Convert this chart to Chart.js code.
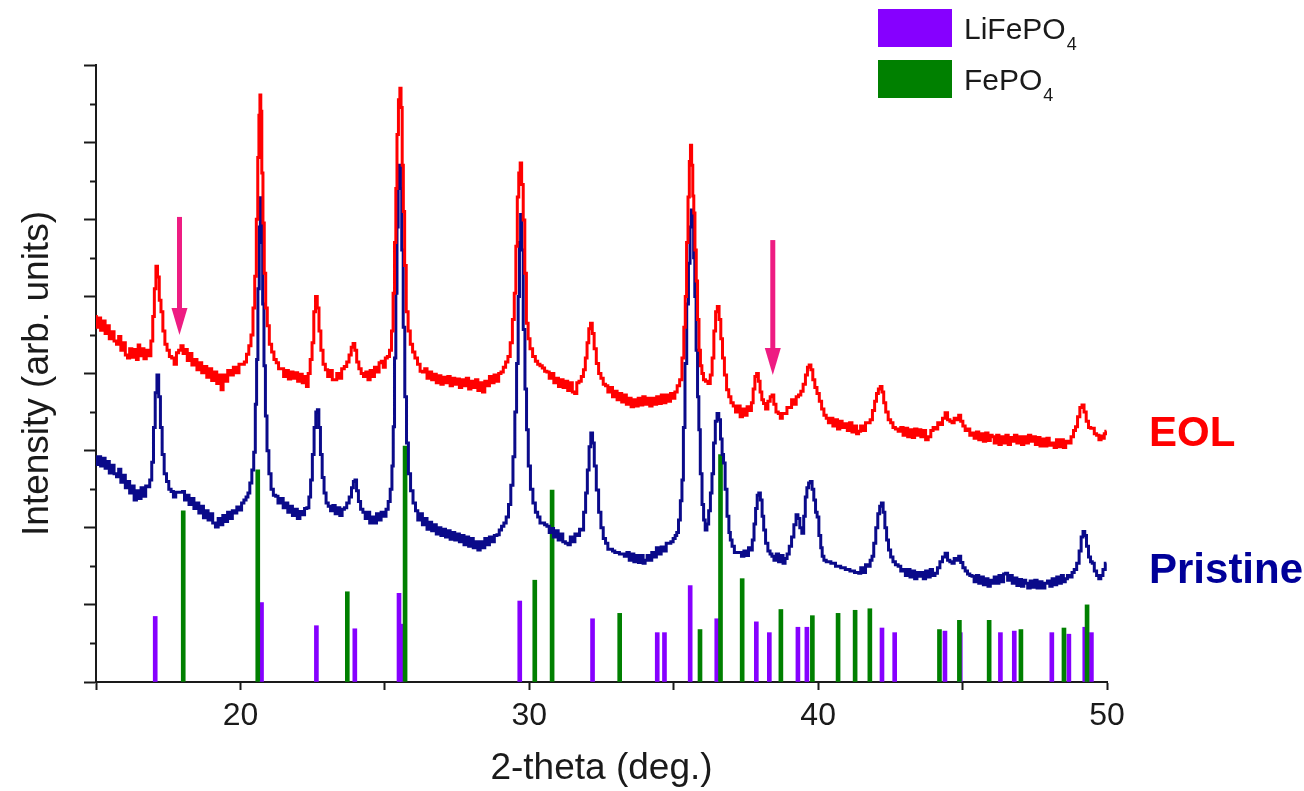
<!DOCTYPE html>
<html>
<head>
<meta charset="utf-8">
<script src="https://cdn.jsdelivr.net/npm/chart.js@4.4.1/dist/chart.umd.min.js"></script>
<style>
  html, body { margin: 0; padding: 0; background: #fff; }
  canvas { display: block; }
</style>
</head>
<body>
<canvas id="xrd" width="1304" height="791"></canvas>
<script>
// 2-theta positions (deg.) and intensities (arb. units) of the measured patterns
const eolTheta = [
  14.97, 15.05, 15.12, 15.20, 15.28, 15.35, 15.42, 15.50, 15.58, 15.67, 15.75, 15.82, 15.90, 15.98, 16.05, 16.13,
  16.20, 16.28, 16.36, 16.44, 16.48, 16.55, 16.62, 16.70, 16.78, 16.86, 16.94, 16.99, 17.05, 17.10, 17.16, 17.22,
  17.28, 17.35, 17.42, 17.50, 17.58, 17.66, 17.75, 17.82, 17.90, 17.98, 18.05, 18.12, 18.20, 18.28, 18.36, 18.45,
  18.54, 18.62, 18.70, 18.79, 18.88, 18.96, 19.05, 19.14, 19.22, 19.30, 19.36, 19.44, 19.52, 19.60, 19.71, 19.80,
  19.90, 20.00, 20.10, 20.17, 20.25, 20.33, 20.40, 20.47, 20.52, 20.58, 20.62, 20.66, 20.69, 20.72, 20.76, 20.80,
  20.85, 20.90, 20.96, 21.04, 21.12, 21.20, 21.28, 21.36, 21.45, 21.54, 21.62, 21.70, 21.78, 21.86, 21.94, 22.02,
  22.10, 22.18, 22.26, 22.31, 22.38, 22.45, 22.51, 22.57, 22.63, 22.69, 22.75, 22.82, 22.90, 22.98, 23.06, 23.14,
  23.22, 23.29, 23.38, 23.46, 23.55, 23.64, 23.72, 23.80, 23.87, 23.93, 23.99, 24.06, 24.14, 24.22, 24.30, 24.38,
  24.45, 24.53, 24.60, 24.68, 24.76, 24.84, 24.91, 24.98, 25.05, 25.12, 25.20, 25.26, 25.31, 25.36, 25.40, 25.44,
  25.50, 25.54, 25.58, 25.62, 25.66, 25.71, 25.77, 25.84, 25.92, 26.00, 26.08, 26.18, 26.26, 26.34, 26.42, 26.50,
  26.58, 26.66, 26.74, 26.82, 26.90, 26.98, 27.06, 27.14, 27.22, 27.30, 27.38, 27.46, 27.54, 27.62, 27.70, 27.78,
  27.86, 27.94, 28.02, 28.10, 28.18, 28.26, 28.34, 28.42, 28.50, 28.58, 28.66, 28.74, 28.82, 28.90, 28.98, 29.06,
  29.14, 29.22, 29.30, 29.38, 29.45, 29.51, 29.56, 29.61, 29.66, 29.71, 29.76, 29.82, 29.87, 29.93, 29.99, 30.06,
  30.17, 30.25, 30.33, 30.41, 30.49, 30.57, 30.65, 30.73, 30.81, 30.89, 30.97, 31.05, 31.13, 31.21, 31.29, 31.37,
  31.45, 31.53, 31.61, 31.68, 31.76, 31.84, 31.91, 31.97, 32.03, 32.09, 32.15, 32.21, 32.28, 32.36, 32.44, 32.52,
  32.60, 32.68, 32.76, 32.84, 32.92, 33.00, 33.08, 33.16, 33.24, 33.32, 33.40, 33.48, 33.57, 33.65, 33.73, 33.81,
  33.89, 33.97, 34.05, 34.13, 34.21, 34.29, 34.37, 34.45, 34.53, 34.61, 34.69, 34.77, 34.85, 34.93, 35.00, 35.08,
  35.16, 35.25, 35.32, 35.38, 35.42, 35.47, 35.52, 35.56, 35.60, 35.64, 35.68, 35.71, 35.76, 35.80, 35.85, 35.90,
  35.95, 36.00, 36.06, 36.14, 36.23, 36.30, 36.36, 36.42, 36.48, 36.54, 36.60, 36.66, 36.72, 36.79, 36.87, 36.94,
  37.02, 37.10, 37.18, 37.26, 37.34, 37.42, 37.50, 37.58, 37.66, 37.72, 37.78, 37.84, 37.90, 37.96, 38.02, 38.08,
  38.14, 38.22, 38.30, 38.38, 38.43, 38.50, 38.58, 38.66, 38.72, 38.80, 38.88, 38.96, 39.04, 39.12, 39.20, 39.28,
  39.36, 39.44, 39.52, 39.60, 39.66, 39.72, 39.78, 39.85, 39.92, 40.00, 40.08, 40.16, 40.24, 40.32, 40.39, 40.47,
  40.55, 40.63, 40.71, 40.79, 40.87, 40.97, 41.05, 41.13, 41.21, 41.29, 41.37, 41.43, 41.51, 41.60, 41.68, 41.76,
  41.84, 41.92, 41.99, 42.05, 42.12, 42.18, 42.24, 42.30, 42.38, 42.47, 42.55, 42.63, 42.72, 42.82, 42.90, 42.98,
  43.06, 43.14, 43.22, 43.30, 43.38, 43.46, 43.51, 43.60, 43.68, 43.76, 43.86, 43.94, 44.02, 44.10, 44.18, 44.26,
  44.35, 44.44, 44.52, 44.60, 44.67, 44.75, 44.83, 44.90, 44.97, 45.05, 45.13, 45.21, 45.29, 45.36, 45.44, 45.52,
  45.60, 45.68, 45.76, 45.84, 45.92, 46.00, 46.05, 46.14, 46.22, 46.30, 46.38, 46.46, 46.54, 46.62, 46.70, 46.75,
  46.84, 46.92, 47.00, 47.08, 47.16, 47.24, 47.32, 47.40, 47.48, 47.56, 47.64, 47.72, 47.80, 47.88, 47.96, 48.04,
  48.13, 48.21, 48.29, 48.37, 48.45, 48.53, 48.61, 48.71, 48.80, 48.88, 48.94, 49.02, 49.10, 49.17, 49.24, 49.32,
  49.40, 49.47, 49.52, 49.60, 49.68, 49.76, 49.83, 49.87, 49.94, 49.98
];
const eolIntensity = [
  4.74, 4.60, 4.72, 4.56, 4.68, 4.52, 4.62, 4.45, 4.54, 4.42, 4.38, 4.48, 4.30, 4.40, 4.24, 4.20,
  4.32, 4.21, 4.31, 4.18, 4.37, 4.23, 4.32, 4.19, 4.30, 4.23, 4.42, 4.74, 5.10, 5.39, 5.25, 4.95,
  4.80, 4.55, 4.38, 4.30, 4.22, 4.20, 4.12, 4.27, 4.30, 4.36, 4.26, 4.31, 4.17, 4.26, 4.11, 4.18,
  4.05, 4.14, 4.01, 4.09, 3.95, 4.06, 3.91, 4.02, 3.87, 3.98, 3.79, 3.98, 3.90, 4.04, 3.98, 4.08,
  4.01, 4.12, 4.12, 4.15, 4.25, 4.36, 4.50, 4.85, 5.26, 6.00, 6.80, 7.35, 7.61, 7.40, 6.60, 5.95,
  5.30, 4.85, 4.62, 4.38, 4.28, 4.18, 4.14, 4.06, 4.06, 3.96, 4.04, 3.93, 4.02, 3.94, 4.01, 3.90,
  3.99, 3.88, 3.96, 3.83, 4.00, 4.18, 4.40, 4.80, 5.00, 4.85, 4.55, 4.30, 4.12, 4.05, 3.96, 4.04,
  3.92, 3.92, 4.00, 3.94, 4.06, 4.09, 4.15, 4.24, 4.34, 4.39, 4.30, 4.15, 4.06, 4.00, 3.96, 4.02,
  3.92, 4.04, 3.96, 4.08, 4.02, 4.14, 4.16, 4.08, 4.20, 4.22, 4.30, 4.55, 5.04, 5.70, 6.40, 7.10,
  7.55, 7.70, 7.45, 6.70, 6.10, 5.40, 4.80, 4.55, 4.38, 4.28, 4.20, 4.12, 4.03, 4.02, 4.06, 3.94,
  4.02, 3.92, 3.99, 3.88, 3.97, 3.86, 3.95, 3.88, 3.96, 3.84, 3.94, 3.86, 3.93, 3.82, 3.92, 3.84,
  3.94, 3.80, 3.90, 3.82, 3.92, 3.78, 3.88, 3.76, 3.90, 3.84, 3.96, 3.88, 3.98, 3.90, 4.00, 4.02,
  4.08, 4.15, 4.22, 4.40, 4.70, 5.04, 5.65, 6.29, 6.60, 6.73, 6.45, 5.99, 5.30, 4.65, 4.45, 4.32,
  4.22, 4.16, 4.12, 4.10, 4.07, 4.03, 4.02, 3.94, 4.00, 3.88, 3.94, 3.83, 3.92, 3.82, 3.90, 3.78,
  3.88, 3.76, 3.74, 3.88, 3.90, 3.96, 4.05, 4.20, 4.40, 4.58, 4.65, 4.52, 4.32, 4.13, 4.00, 3.94,
  3.86, 3.84, 3.76, 3.82, 3.70, 3.77, 3.66, 3.74, 3.63, 3.72, 3.60, 3.68, 3.57, 3.66, 3.58, 3.68,
  3.59, 3.70, 3.60, 3.68, 3.58, 3.68, 3.60, 3.70, 3.61, 3.72, 3.62, 3.72, 3.64, 3.74, 3.68, 3.76,
  3.84, 3.92, 4.20, 4.60, 5.00, 5.70, 6.29, 6.75, 6.96, 6.70, 6.30, 6.08, 5.60, 5.20, 4.70, 4.30,
  4.10, 4.00, 3.92, 3.90, 3.87, 3.98, 4.20, 4.55, 4.80, 4.87, 4.70, 4.45, 4.20, 3.98, 3.79, 3.70,
  3.62, 3.58, 3.50, 3.58, 3.44, 3.54, 3.46, 3.57, 3.52, 3.62, 3.80, 3.96, 4.00, 3.90, 3.76, 3.66,
  3.61, 3.54, 3.64, 3.70, 3.72, 3.60, 3.50, 3.48, 3.42, 3.48, 3.48, 3.56, 3.56, 3.66, 3.60, 3.70,
  3.72, 3.77, 3.86, 3.98, 4.08, 4.11, 4.05, 3.92, 3.82, 3.74, 3.64, 3.54, 3.46, 3.42, 3.36, 3.42,
  3.32, 3.40, 3.28, 3.38, 3.30, 3.35, 3.26, 3.36, 3.24, 3.32, 3.22, 3.25, 3.32, 3.26, 3.36, 3.36,
  3.40, 3.52, 3.64, 3.74, 3.80, 3.83, 3.76, 3.62, 3.50, 3.40, 3.36, 3.30, 3.28, 3.25, 3.30, 3.20,
  3.29, 3.18, 3.27, 3.17, 3.28, 3.20, 3.27, 3.18, 3.26, 3.14, 3.18, 3.26, 3.30, 3.28, 3.36, 3.34,
  3.42, 3.49, 3.40, 3.38, 3.36, 3.42, 3.40, 3.46, 3.38, 3.32, 3.26, 3.28, 3.20, 3.23, 3.16, 3.24,
  3.14, 3.22, 3.12, 3.23, 3.13, 3.20, 3.18, 3.10, 3.20, 3.08, 3.18, 3.10, 3.20, 3.08, 3.17, 3.12,
  3.20, 3.10, 3.18, 3.08, 3.18, 3.10, 3.20, 3.12, 3.18, 3.08, 3.17, 3.06, 3.15, 3.06, 3.16, 3.07,
  3.10, 3.04, 3.14, 3.05, 3.14, 3.04, 3.12, 3.10, 3.18, 3.26, 3.31, 3.44, 3.56, 3.59, 3.50, 3.38,
  3.30, 3.29, 3.29, 3.22, 3.20, 3.14, 3.19, 3.16, 3.22, 3.25
];

const pristineTheta = [
  14.97, 15.05, 15.12, 15.20, 15.28, 15.35, 15.42, 15.50, 15.58, 15.67, 15.75, 15.82, 15.90, 15.98, 16.05, 16.13,
  16.20, 16.28, 16.36, 16.44, 16.52, 16.60, 16.68, 16.76, 16.82, 16.90, 16.96, 17.02, 17.08, 17.14, 17.20, 17.26,
  17.32, 17.40, 17.48, 17.56, 17.64, 17.72, 17.80, 17.88, 17.96, 18.03, 18.10, 18.18, 18.26, 18.34, 18.44, 18.52,
  18.60, 18.68, 18.76, 18.84, 18.92, 19.00, 19.08, 19.19, 19.27, 19.35, 19.43, 19.51, 19.60, 19.68, 19.76, 19.83,
  19.92, 20.00, 20.08, 20.16, 20.23, 20.29, 20.36, 20.43, 20.49, 20.54, 20.58, 20.63, 20.67, 20.71, 20.75, 20.79,
  20.84, 20.89, 20.95, 21.02, 21.10, 21.18, 21.26, 21.34, 21.44, 21.52, 21.60, 21.68, 21.76, 21.84, 21.92, 22.02,
  22.10, 22.18, 22.26, 22.34, 22.40, 22.46, 22.52, 22.58, 22.64, 22.69, 22.74, 22.80, 22.86, 22.93, 23.00, 23.08,
  23.16, 23.24, 23.32, 23.40, 23.48, 23.56, 23.64, 23.72, 23.81, 23.88, 23.94, 23.99, 24.05, 24.12, 24.20, 24.28,
  24.36, 24.44, 24.51, 24.59, 24.67, 24.75, 24.83, 24.91, 25.00, 25.08, 25.15, 25.22, 25.27, 25.31, 25.36, 25.40,
  25.44, 25.48, 25.52, 25.56, 25.61, 25.66, 25.72, 25.78, 25.85, 25.93, 26.02, 26.10, 26.18, 26.26, 26.34, 26.42,
  26.50, 26.58, 26.66, 26.74, 26.82, 26.90, 26.98, 27.06, 27.14, 27.22, 27.30, 27.38, 27.46, 27.54, 27.62, 27.70,
  27.78, 27.86, 27.94, 28.02, 28.10, 28.18, 28.26, 28.34, 28.42, 28.50, 28.58, 28.66, 28.74, 28.84, 28.92, 29.00,
  29.08, 29.16, 29.24, 29.32, 29.40, 29.47, 29.53, 29.59, 29.64, 29.68, 29.72, 29.76, 29.82, 29.88, 29.93, 30.00,
  30.08, 30.17, 30.25, 30.33, 30.41, 30.49, 30.57, 30.65, 30.73, 30.80, 30.88, 30.96, 31.04, 31.12, 31.20, 31.30,
  31.38, 31.46, 31.54, 31.62, 31.70, 31.78, 31.84, 31.92, 31.98, 32.04, 32.10, 32.16, 32.22, 32.28, 32.36, 32.44,
  32.52, 32.60, 32.68, 32.76, 32.84, 32.92, 33.00, 33.08, 33.16, 33.24, 33.34, 33.42, 33.50, 33.58, 33.66, 33.74,
  33.82, 33.90, 33.98, 34.04, 34.12, 34.20, 34.28, 34.36, 34.44, 34.52, 34.61, 34.70, 34.78, 34.86, 34.94, 35.02,
  35.08, 35.13, 35.20, 35.26, 35.31, 35.36, 35.42, 35.48, 35.54, 35.59, 35.63, 35.67, 35.71, 35.75, 35.80, 35.85,
  35.89, 35.95, 36.01, 36.06, 36.12, 36.18, 36.24, 36.30, 36.35, 36.41, 36.47, 36.53, 36.59, 36.65, 36.70, 36.75,
  36.81, 36.88, 36.94, 36.98, 37.06, 37.14, 37.22, 37.30, 37.39, 37.47, 37.55, 37.63, 37.69, 37.75, 37.81, 37.86,
  37.92, 37.97, 38.03, 38.09, 38.14, 38.22, 38.30, 38.37, 38.43, 38.51, 38.59, 38.67, 38.75, 38.82, 38.89, 38.96,
  39.04, 39.12, 39.20, 39.27, 39.33, 39.40, 39.47, 39.53, 39.58, 39.64, 39.70, 39.76, 39.82, 39.88, 39.94, 39.99,
  40.06, 40.12, 40.16, 40.24, 40.32, 40.40, 40.48, 40.56, 40.64, 40.74, 40.82, 40.90, 40.98, 41.06, 41.14, 41.22,
  41.30, 41.38, 41.43, 41.52, 41.60, 41.68, 41.76, 41.84, 41.89, 41.96, 42.03, 42.10, 42.16, 42.22, 42.28, 42.34,
  42.40, 42.47, 42.55, 42.63, 42.72, 42.82, 42.90, 42.98, 43.06, 43.14, 43.22, 43.30, 43.38, 43.46, 43.51, 43.60,
  43.68, 43.76, 43.84, 43.92, 44.00, 44.09, 44.17, 44.26, 44.35, 44.44, 44.52, 44.60, 44.67, 44.75, 44.83, 44.90,
  44.97, 45.05, 45.13, 45.21, 45.29, 45.36, 45.44, 45.52, 45.60, 45.68, 45.76, 45.84, 45.92, 46.00, 46.05, 46.14,
  46.22, 46.30, 46.38, 46.46, 46.52, 46.60, 46.68, 46.76, 46.84, 46.92, 47.00, 47.08, 47.16, 47.21, 47.30, 47.38,
  47.46, 47.54, 47.62, 47.70, 47.80, 47.90, 47.98, 48.06, 48.14, 48.22, 48.30, 48.38, 48.46, 48.52, 48.59, 48.67,
  48.75, 48.83, 48.90, 49.00, 49.07, 49.14, 49.20, 49.26, 49.32, 49.40, 49.46, 49.52, 49.60, 49.68, 49.75, 49.82,
  49.90, 49.98
];
const pristineIntensity = [
  2.92, 2.82, 2.92, 2.80, 2.90, 2.77, 2.86, 2.71, 2.81, 2.70, 2.66, 2.76, 2.59, 2.68, 2.52, 2.60,
  2.45, 2.54, 2.36, 2.48, 2.38, 2.52, 2.41, 2.54, 2.53, 2.62, 2.85, 3.30, 3.75, 3.98, 3.70, 3.30,
  2.95, 2.70, 2.60, 2.50, 2.47, 2.40, 2.46, 2.46, 2.46, 2.47, 2.36, 2.42, 2.30, 2.38, 2.25, 2.32,
  2.19, 2.28, 2.13, 2.22, 2.10, 2.18, 2.06, 2.01, 2.12, 2.04, 2.16, 2.08, 2.20, 2.12, 2.22, 2.19,
  2.27, 2.23, 2.32, 2.36, 2.40, 2.45, 2.58, 2.75, 2.98, 3.60, 4.18, 5.10, 5.90, 6.28, 5.70, 4.90,
  4.10, 3.45, 3.00, 2.70, 2.50, 2.42, 2.41, 2.32, 2.38, 2.26, 2.32, 2.20, 2.28, 2.16, 2.24, 2.12,
  2.21, 2.17, 2.25, 2.26, 2.40, 2.62, 2.95, 3.30, 3.50, 3.53, 3.30, 2.95, 2.65, 2.45, 2.32, 2.28,
  2.22, 2.29, 2.18, 2.26, 2.16, 2.24, 2.26, 2.32, 2.40, 2.52, 2.60, 2.62, 2.48, 2.34, 2.24, 2.20,
  2.12, 2.20, 2.06, 2.14, 2.06, 2.18, 2.10, 2.20, 2.15, 2.24, 2.34, 2.50, 2.80, 3.31, 4.20, 5.04,
  5.90, 6.50, 6.70, 6.40, 5.60, 4.60, 3.70, 3.10, 2.70, 2.48, 2.32, 2.22, 2.10, 2.18, 2.04, 2.12,
  1.98, 2.07, 1.96, 2.04, 1.92, 2.00, 1.90, 1.98, 1.88, 1.96, 1.85, 1.94, 1.84, 1.92, 1.82, 1.90,
  1.78, 1.88, 1.76, 1.86, 1.74, 1.82, 1.71, 1.82, 1.74, 1.86, 1.78, 1.88, 1.82, 1.90, 1.91, 1.97,
  2.02, 2.06, 2.14, 2.30, 2.55, 2.92, 3.50, 4.13, 5.00, 5.70, 6.06, 5.60, 4.57, 3.80, 3.27, 2.80,
  2.50, 2.32, 2.20, 2.14, 2.06, 2.06, 2.04, 2.02, 1.94, 1.99, 1.88, 1.96, 1.84, 1.92, 1.82, 1.80,
  1.78, 1.88, 1.82, 1.92, 1.90, 1.98, 1.97, 2.20, 2.45, 2.75, 3.05, 3.23, 3.10, 2.80, 2.49, 2.20,
  2.00, 1.86, 1.80, 1.72, 1.72, 1.70, 1.68, 1.68, 1.66, 1.66, 1.63, 1.68, 1.58, 1.66, 1.56, 1.64,
  1.55, 1.64, 1.54, 1.58, 1.64, 1.58, 1.68, 1.62, 1.74, 1.66, 1.75, 1.70, 1.80, 1.80, 1.82, 1.86,
  1.90, 1.94, 2.10, 2.35, 2.62, 3.30, 4.13, 4.90, 5.43, 5.90, 6.12, 5.90, 5.50, 5.00, 4.30, 3.70,
  3.27, 2.70, 2.30, 2.10, 1.97, 2.05, 2.22, 2.45, 2.70, 3.10, 3.38, 3.48, 3.40, 3.15, 2.95, 2.84,
  2.50, 2.15, 1.94, 1.84, 1.76, 1.68, 1.68, 1.68, 1.63, 1.70, 1.64, 1.74, 1.71, 1.84, 2.05, 2.25,
  2.42, 2.45, 2.36, 2.15, 1.97, 1.80, 1.70, 1.66, 1.63, 1.58, 1.66, 1.56, 1.64, 1.54, 1.60, 1.66,
  1.76, 1.88, 2.04, 2.17, 2.12, 2.00, 1.93, 2.15, 2.40, 2.52, 2.58, 2.60, 2.50, 2.36, 2.20, 2.14,
  1.90, 1.74, 1.63, 1.58, 1.56, 1.56, 1.54, 1.54, 1.50, 1.50, 1.48, 1.48, 1.46, 1.46, 1.44, 1.44,
  1.42, 1.42, 1.41, 1.48, 1.42, 1.52, 1.50, 1.58, 1.63, 1.80, 2.00, 2.18, 2.28, 2.32, 2.20, 2.00,
  1.84, 1.71, 1.62, 1.56, 1.52, 1.50, 1.44, 1.46, 1.38, 1.46, 1.36, 1.44, 1.34, 1.42, 1.37, 1.42,
  1.34, 1.44, 1.36, 1.46, 1.38, 1.41, 1.48, 1.56, 1.62, 1.67, 1.58, 1.56, 1.54, 1.60, 1.58, 1.63,
  1.55, 1.48, 1.44, 1.40, 1.38, 1.37, 1.30, 1.38, 1.28, 1.36, 1.26, 1.34, 1.24, 1.32, 1.28, 1.36,
  1.28, 1.38, 1.30, 1.40, 1.41, 1.32, 1.38, 1.28, 1.35, 1.25, 1.33, 1.24, 1.32, 1.28, 1.22, 1.31,
  1.23, 1.32, 1.22, 1.30, 1.22, 1.28, 1.31, 1.24, 1.34, 1.26, 1.36, 1.28, 1.38, 1.30, 1.34, 1.38,
  1.36, 1.42, 1.46, 1.54, 1.70, 1.88, 1.95, 1.90, 1.76, 1.62, 1.56, 1.54, 1.44, 1.38, 1.34, 1.38,
  1.46, 1.54
];

// reference stick patterns: positions (deg.) and relative heights
const lfpTheta = [17.05, 20.73, 22.63, 23.96, 25.49, 25.59, 29.67, 32.19, 34.43, 34.68, 35.57, 36.49,
  37.86, 38.31, 39.30, 39.61, 42.21, 42.65, 44.39, 44.92, 46.31, 46.79, 48.09, 48.68, 49.23, 49.46];
const lfpHeight = [0.85, 1.03, 0.73, 0.69, 1.15, 0.75, 1.05, 0.82, 0.64, 0.64, 1.25, 0.82,
  0.78, 0.64, 0.71, 0.71, 0.70, 0.64, 0.66, 0.64, 0.64, 0.66, 0.64, 0.62, 0.71, 0.64];
const fpTheta = [18.02, 20.60, 23.70, 25.70, 30.19, 30.79, 33.13, 35.91, 36.62, 37.37, 38.71, 39.80,
  40.69, 41.28, 41.79, 44.20, 44.89, 45.92, 47.02, 48.51, 49.31];
const fpHeight = [2.22, 2.75, 1.17, 3.06, 1.32, 2.49, 0.89, 0.68, 2.95, 1.34, 0.94, 0.86,
  0.89, 0.93, 0.95, 0.68, 0.80, 0.80, 0.68, 0.70, 1.00];

// pink arrows marking the extra reflections: position, tail, head
const arrowTheta = [17.89, 38.43];
const arrowFrom = [6.03, 5.73];
const arrowTo = [4.50, 3.98];

const EOL_RED = "#ff0000";
const PRISTINE_NAVY = "#0a0a8a";
const LFP_PURPLE = "#8600ff";
const FP_GREEN = "#008000";
const AXIS_COLOR = "#1a1a1a";

const toPoints = (xs, ys) => xs.map((x, i) => ({ x, y: ys[i] }));

// extra drawing: minor y ticks, legend with subscripts, curve labels, arrows
const decorations = {
  id: "decorations",
  afterDraw(chart) {
    const { ctx, chartArea, scales } = chart;
    const xs = scales.x;
    const ys = scales.y;
    ctx.save();

    // minor ticks on the intensity axis
    ctx.strokeStyle = AXIS_COLOR;
    ctx.lineWidth = 2;
    for (let v = 0.5; v < 8; v += 1) {
      const py = Math.round(ys.getPixelForValue(v)) + 0.5;
      ctx.beginPath();
      ctx.moveTo(chartArea.left - 6, py);
      ctx.lineTo(chartArea.left, py);
      ctx.stroke();
    }

    // arrows
    ctx.fillStyle = "#ee1c82";
    ctx.strokeStyle = "#ee1c82";
    arrowTheta.forEach((t, i) => {
      const px = xs.getPixelForValue(t);
      const y0 = ys.getPixelForValue(arrowFrom[i]);
      const y1 = ys.getPixelForValue(arrowTo[i]);
      ctx.lineWidth = 5;
      ctx.beginPath();
      ctx.moveTo(px, y0);
      ctx.lineTo(px, y1 - 22);
      ctx.stroke();
      ctx.beginPath();
      ctx.moveTo(px - 8, y1 - 27);
      ctx.lineTo(px + 8, y1 - 27);
      ctx.lineTo(px, y1);
      ctx.closePath();
      ctx.fill();
    });

    // legend for the stick patterns
    const legend = [
      { color: LFP_PURPLE, main: "LiFePO", sub: "4", top: 9 },
      { color: FP_GREEN, main: "FePO", sub: "4", top: 60 },
    ];
    ctx.textBaseline = "alphabetic";
    ctx.textAlign = "left";
    legend.forEach((item) => {
      ctx.fillStyle = item.color;
      ctx.fillRect(878, item.top, 74, 38);
      ctx.fillStyle = "#1a1a1a";
      ctx.font = '30px "Liberation Sans", Arial, sans-serif';
      ctx.fillText(item.main, 964, item.top + 30);
      const w = ctx.measureText(item.main).width;
      ctx.font = '18px "Liberation Sans", Arial, sans-serif';
      ctx.fillText(item.sub, 964 + w + 1, item.top + 41);
    });

    // curve labels to the right of the plot
    ctx.font = 'bold 42px "Liberation Sans", Arial, sans-serif';
    ctx.fillStyle = EOL_RED;
    ctx.fillText("EOL", chartArea.right + 42, 446);
    ctx.fillStyle = "#000099";
    ctx.fillText("Pristine", chartArea.right + 42, 583);

    ctx.restore();
  },
};

const chart = new Chart(document.getElementById("xrd"), {
  type: "line",
  data: {
    datasets: [
      {
        label: "EOL",
        data: toPoints(eolTheta, eolIntensity),
        borderColor: EOL_RED,
        borderWidth: 3,
        stepped: "middle",
        pointRadius: 0,
        order: 1,
      },
      {
        label: "Pristine",
        data: toPoints(pristineTheta, pristineIntensity),
        borderColor: PRISTINE_NAVY,
        borderWidth: 3,
        stepped: "middle",
        pointRadius: 0,
        order: 2,
      },
      {
        type: "bar",
        label: "FePO4",
        data: toPoints(fpTheta, fpHeight),
        backgroundColor: FP_GREEN,
        barThickness: 4,
        grouped: false,
        order: 3,
      },
      {
        type: "bar",
        label: "LiFePO4",
        data: toPoints(lfpTheta, lfpHeight),
        backgroundColor: LFP_PURPLE,
        barThickness: 4,
        grouped: false,
        order: 4,
      },
    ],
  },
  options: {
    responsive: false,
    animation: false,
    layout: { padding: { top: 65, right: 197, left: 0, bottom: 0 } },
    plugins: {
      legend: { display: false },
      tooltip: { enabled: false },
    },
    scales: {
      x: {
        type: "linear",
        min: 15,
        max: 50,
        offset: false,
        afterFit: (scale) => { scale.height = 109; },
        border: { display: true, color: AXIS_COLOR, width: 2 },
        grid: {
          offset: false,
          drawOnChartArea: false,
          drawTicks: true,
          tickLength: 8,
          color: AXIS_COLOR,
          tickWidth: 2,
        },
        ticks: {
          stepSize: 5,
          autoSkip: false,
          maxRotation: 0,
          padding: 7,
          color: "#1a1a1a",
          font: { family: '"Liberation Sans", Arial, sans-serif', size: 32 },
          callback: (v) => (v >= 20 && v % 10 === 0 ? String(v) : ""),
        },
        title: {
          display: true,
          text: "2-theta (deg.)",
          color: "#1a1a1a",
          font: { family: '"Liberation Sans", Arial, sans-serif', size: 37 },
          padding: { top: 0, bottom: 0 },
        },
      },
      y: {
        min: 0,
        max: 8,
        afterFit: (scale) => { scale.width = 96; },
        border: { display: true, color: AXIS_COLOR, width: 2 },
        grid: { drawOnChartArea: false, drawTicks: true, tickLength: 12, color: AXIS_COLOR, tickWidth: 2 },
        ticks: { stepSize: 1, display: false },
        title: {
          display: true,
          text: "Intensity (arb. units)",
          color: "#1a1a1a",
          font: { family: '"Liberation Sans", Arial, sans-serif', size: 37 },
          padding: { top: 16, bottom: 0 },
        },
      },
    },
  },
  plugins: [decorations],
});
</script>
</body>
</html>
